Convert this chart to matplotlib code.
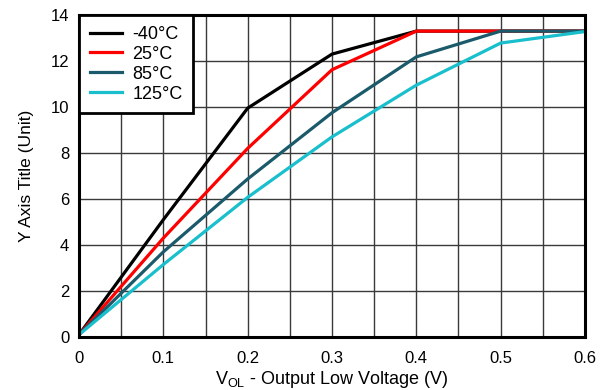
import numpy as np
import matplotlib.pyplot as plt

plt.rcParams['font.family'] = ['Liberation Sans', 'DejaVu Sans']

# Output sink current vs. VOL at four temperatures
vol = [0.0, 0.1, 0.2, 0.3, 0.4, 0.5, 0.6]
labels = ['-40°C', '25°C', '85°C', '125°C']
colors = ['#000000', '#ff0000', '#1a5a6a', '#19bfcc']
curves = [
    [0.1, 5.1, 9.95, 12.3, 13.3, 13.3, 13.3],
    [0.1, 4.3, 8.2, 11.62, 13.3, 13.3, 13.3],
    [0.1, 3.7, 6.87, 9.75, 12.18, 13.3, 13.3],
    [0.1, 3.15, 6.07, 8.7, 10.95, 12.78, 13.28],
]

fig = plt.figure(figsize=(6.14, 3.9), dpi=100)
ax = fig.add_axes([0.1287, 0.136, 0.824, 0.8255])

for y, c, lab in zip(curves, colors, labels):
    ax.plot(vol, y, color=c, lw=2.3, label=lab, solid_joinstyle='miter')

ax.set_xlim(0, 0.6)
ax.set_ylim(0, 14)
ax.set_xticks(np.arange(0, 0.61, 0.1))
ax.set_xticklabels(['0', '0.1', '0.2', '0.3', '0.4', '0.5', '0.6'])
ax.set_xticks(np.arange(0.05, 0.6, 0.1), minor=True)
ax.set_yticks(np.arange(0, 15, 2))
ax.grid(True, which='both', color='#3a3a3a', lw=1.0)
ax.set_axisbelow(True)
ax.tick_params(which='both', length=0, labelsize=12)
ax.tick_params(axis='x', pad=10)
ax.tick_params(axis='y', pad=7)

for s in ax.spines.values():
    s.set_linewidth(2.2)
    s.set_color('black')

ax.set_xlabel(r'V$_{\mathregular{OL}}$ - Output Low Voltage (V)', fontsize=13, labelpad=2)
ax.set_ylabel('Y Axis Title (Unit)', fontsize=12.5, labelpad=12)

leg = ax.legend(loc='upper left', fontsize=13, handlelength=1.8, borderaxespad=0,
                fancybox=False, framealpha=1, edgecolor='black',
                labelspacing=0.16, handletextpad=0.55, borderpad=0.6)
leg.get_frame().set_linewidth(2.0)

fig.savefig('out.png', dpi=100)
